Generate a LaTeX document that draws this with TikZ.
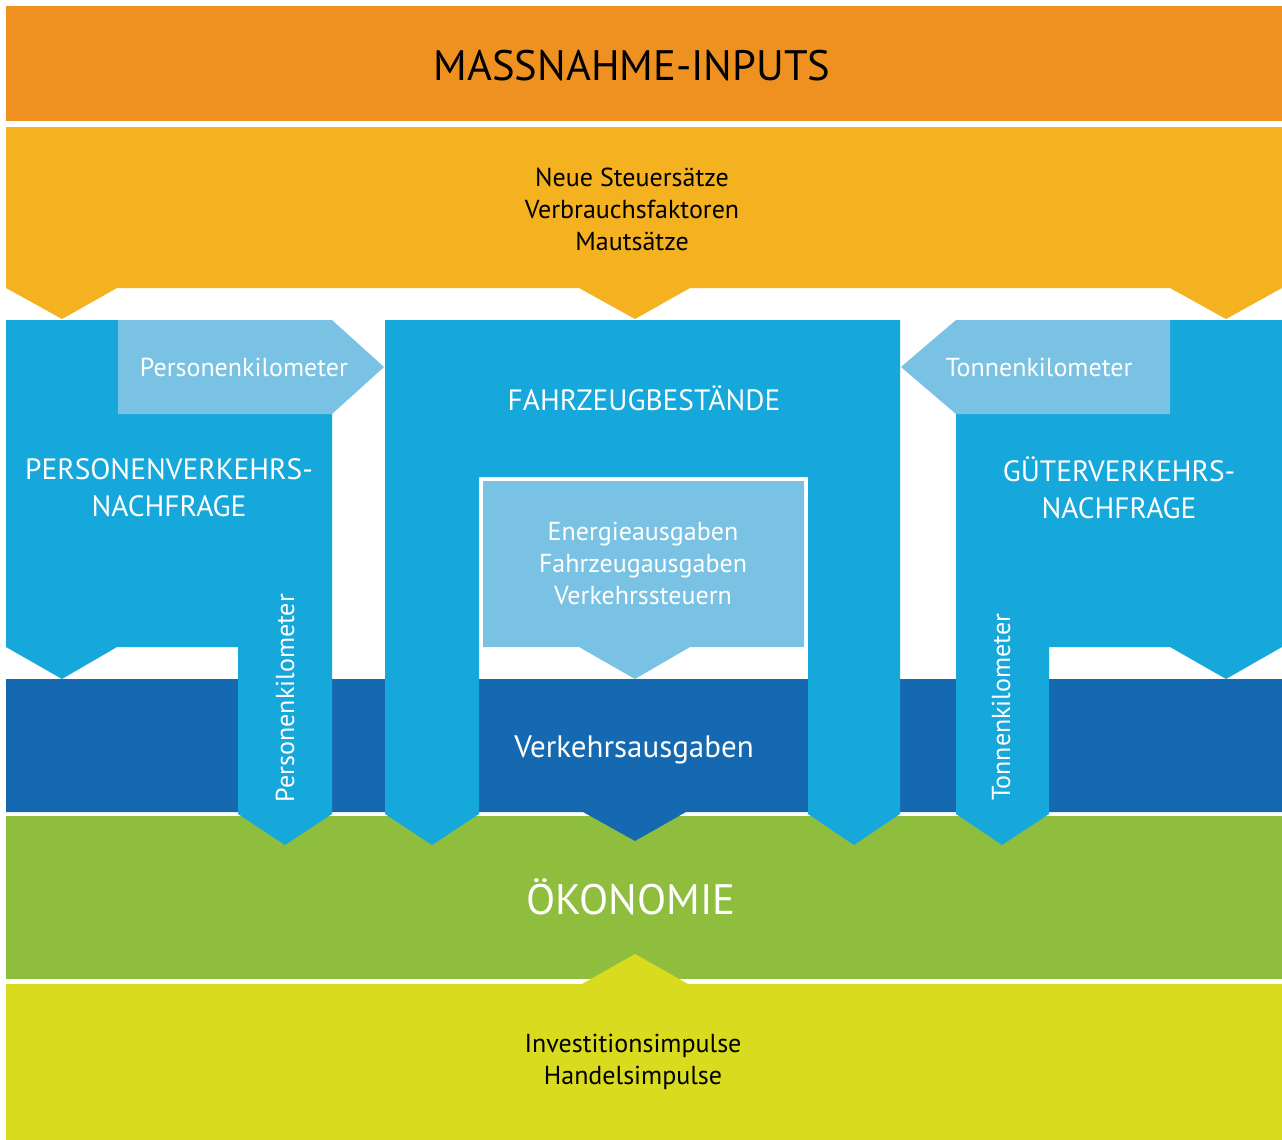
\documentclass[tikz,border=0pt]{standalone}
\usepackage{fontspec}
\setmainfont{PT Sans}
\usepackage{tikz}
\definecolor{massorange}{HTML}{EF9121}
\definecolor{inputyellow}{HTML}{F4B120}
\definecolor{nachfrageblue}{HTML}{16A7DB}
\definecolor{kmblue}{HTML}{79C2E3}
\definecolor{ausgabenblue}{HTML}{1569B0}
\definecolor{oekogreen}{HTML}{8FBE3F}
\definecolor{impulslime}{HTML}{D9DB1F}

\begin{document}
\begin{tikzpicture}[x=0.5pt, y=-0.5pt,
	small/.style={font=\fontsize{13}{16}\selectfont, align=center},
	big/.style={font=\fontsize{14.7}{18.5}\selectfont, align=center, text=white},
	head/.style={font=\fontsize{21.3}{24}\selectfont}]
	\fill[white] (0, 0) rectangle (1282, 1140);

	% bands
	\fill[massorange] (6, 6) rectangle (1282, 121);
	\fill[inputyellow] (6, 127) -- (1282, 127) -- (1282, 288) -- (1226, 319) -- (1170, 288)
		-- (690, 288) -- (635, 319) -- (579, 288) -- (117, 288) -- (62, 319) -- (6, 288) -- cycle;
	\fill[oekogreen] (6, 816) rectangle (1282, 979);
	\fill[impulslime] (6, 984) -- (582, 984) -- (635, 954) -- (688, 984) -- (1282, 984)
		-- (1282, 1140) -- (6, 1140) -- cycle;
	\fill[ausgabenblue] (6, 679) -- (1282, 679) -- (1282, 812) -- (686, 812) -- (635, 841)
		-- (583, 812) -- (6, 812) -- cycle;

	% Nachfrage and Fahrzeugbestaende
	\fill[nachfrageblue] (6, 320) -- (332, 320) -- (332, 814) -- (285, 845) -- (238, 814)
		-- (238, 647) -- (117, 647) -- (62, 679) -- (6, 647) -- cycle;
	\fill[nachfrageblue] (385, 320) -- (900, 320) -- (900, 814) -- (854, 845) -- (808, 814)
		-- (808, 477) -- (479, 477) -- (479, 814) -- (432, 845) -- (385, 814) -- cycle;
	\fill[nachfrageblue] (956, 320) -- (1282, 320) -- (1282, 647) -- (1226, 679) -- (1170, 647)
		-- (1049, 647) -- (1049, 814) -- (1002, 845) -- (956, 814) -- cycle;

	\fill[kmblue] (118, 320) -- (332, 320) -- (384, 367) -- (332, 414) -- (118, 414) -- cycle;
	\fill[kmblue] (1170, 320) -- (956, 320) -- (901, 367) -- (956, 414) -- (1170, 414) -- cycle;
	\fill[kmblue] (483, 481) -- (804, 481) -- (804, 647) -- (690, 647) -- (635, 679)
		-- (579, 647) -- (483, 647) -- cycle;

	% labels
	\node[head] (inputs) at (632, 66) {MASSNAHME-INPUTS};
	\node[small] (saetze) at (632, 209) {Neue Steuersätze\\Verbrauchsfaktoren\\Mautsätze};
	\node[small, text=white] (pkm) at (244, 367) {Personenkilometer};
	\node[small, text=white] (tkm) at (1039, 367) {Tonnenkilometer};
	\node[big] (bestand) at (644, 398) {FAHRZEUGBESTÄNDE};
	\node[big] (personen) at (169, 488) {PERSONENVERKEHRS-\\NACHFRAGE};
	\node[big] (gueter) at (1119, 488) {GÜTERVERKEHRS-\\NACHFRAGE};
	\node[small, text=white] (kosten) at (643, 563) {Energieausgaben\\Fahrzeugausgaben\\Verkehrssteuern};
	\node[big, font=\fontsize{15.5}{18.5}\selectfont] (ausgaben) at (634, 750) {Verkehrsausgaben};
	\node[small, text=white, rotate=90] (pkmdown) at (285, 698) {Personenkilometer};
	\node[small, text=white, rotate=90] (tkmdown) at (1001, 707) {Tonnenkilometer};
	\node[head, text=white] (oekonomie) at (631, 897) {ÖKONOMIE};
	\node[small] (impulse) at (633, 1062) {Investitionsimpulse\\Handelsimpulse};
\end{tikzpicture}
\end{document}
